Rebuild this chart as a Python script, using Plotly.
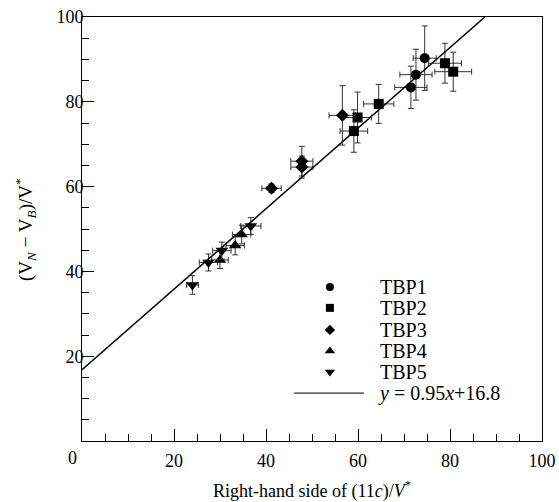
import plotly.graph_objects as go

# ---- data ----
tbp1_x = [74.5, 72.6, 71.5]
tbp1_y = [90.3, 86.4, 83.4]
tbp1_ex = [2.5, 3.5, 3.5]
tbp1_ey = [7.6, 6.0, 5.0]

tbp2_x = [78.9, 80.7, 64.5, 59.9, 59.1]
tbp2_y = [89.1, 87.1, 79.5, 76.3, 73.1]
tbp2_ex = [3.6, 4.0, 3.3, 3.0, 3.0]
tbp2_ey = [4.7, 4.6, 4.6, 6.0, 5.0]

tbp3_x = [56.6, 47.8, 47.8, 41.2]
tbp3_y = [76.8, 66.0, 64.6, 59.6]
tbp3_ex = [2.9, 2.4, 2.4, 2.1]
tbp3_ey = [7.0, 3.5, 2.6, 1.0]

tbp4_x = [34.7, 33.3, 30.0]
tbp4_y = [48.7, 46.1, 42.7]
tbp4_ex = [2.0, 2.0, 1.8]
tbp4_ey = [2.2, 2.2, 2.0]

tbp5_x = [36.7, 30.4, 27.5, 24.0]
tbp5_y = [50.7, 44.9, 42.1, 36.8]
tbp5_ex = [2.2, 2.0, 2.0, 1.3]
tbp5_ey = [2.0, 2.0, 2.0, 2.2]

fit_slope = 0.95
fit_intercept = 16.8
fit_x = [0, (100 - fit_intercept) / fit_slope]

series_names = ["TBP1", "TBP2", "TBP3", "TBP4", "TBP5"]
x_ticks = [20, 40, 60, 80, 100]
y_ticks = [20, 40, 60, 80, 100]

FONT = "Liberation Serif, Times New Roman, serif"

series = [
    (tbp1_x, tbp1_y, tbp1_ex, tbp1_ey, "circle", 10),
    (tbp2_x, tbp2_y, tbp2_ex, tbp2_ey, "square", 10),
    (tbp3_x, tbp3_y, tbp3_ex, tbp3_ey, "diamond", 10),
    (tbp4_x, tbp4_y, tbp4_ex, tbp4_ey, "triangle-up", 11),
    (tbp5_x, tbp5_y, tbp5_ex, tbp5_ey, "triangle-down", 11),
]

fig = go.Figure()

for name, (xs, ys, ex, ey, sym, sz) in zip(series_names, series):
    fig.add_trace(go.Scatter(
        x=xs, y=ys, mode="markers", name=name, showlegend=False,
        marker=dict(symbol=sym, size=sz, color="black"),
        error_x=dict(type="data", array=ex, color="#333", thickness=1, width=3),
        error_y=dict(type="data", array=ey, color="#333", thickness=1, width=3),
    ))

fit_y = [fit_slope * v + fit_intercept for v in fit_x]
fig.add_trace(go.Scatter(x=fit_x, y=fit_y, mode="lines", showlegend=False,
                         line=dict(color="black", width=1.5)))

# ---- custom legend (overlay axes spanning plot area, range 0..1) ----
leg_rows = [0.363, 0.314, 0.262, 0.212, 0.163]
leg_mx = 0.539
leg_tx = 0.6435
for name, (_, _, _, _, sym, sz), ry in zip(series_names, series, leg_rows):
    fig.add_trace(go.Scatter(x=[leg_mx], y=[ry], mode="markers", xaxis="x2", yaxis="y2",
                             showlegend=False,
                             marker=dict(symbol=sym, size=sz - 2, color="black")))
    fig.add_annotation(x=leg_tx, y=ry, xref="paper", yref="paper", text=name,
                       showarrow=False, xanchor="left", yanchor="middle",
                       font=dict(family=FONT, size=20, color="black"))
fig.add_shape(type="line", xref="paper", yref="paper", x0=0.461, x1=0.613,
              y0=0.113, y1=0.113, line=dict(color="black", width=1))
fig.add_annotation(x=leg_tx - 0.004, y=0.113, xref="paper", yref="paper",
                   text="<i>y</i> = 0.95<i>x</i>+16.8", showarrow=False,
                   xanchor="left", yanchor="middle",
                   font=dict(family=FONT, size=20, color="black"))

# x-axis "0" label offset to the left (as in reference)
fig.add_annotation(x=0, y=0, xref="x", yref="y", text="0", showarrow=False,
                   xanchor="center", yanchor="middle",
                   xshift=-10, yshift=-17, font=dict(family=FONT, size=18, color="black"))

# y-axis title
fig.add_annotation(x=-0.124, y=0.5, xref="paper", yref="paper",
                   xanchor="center", yanchor="middle",
                   text="(V<sub><i>N</i></sub> \u2212 V<sub><i>B</i></sub>)/V<sup>*</sup>",
                   textangle=-90, showarrow=False,
                   font=dict(family=FONT, size=19, color="black"))

fig.update_layout(
    width=559, height=502,
    margin=dict(l=82, r=17, t=17, b=61, autoexpand=False),
    paper_bgcolor="white", plot_bgcolor="white",
    font=dict(family=FONT, size=18, color="black"),
    xaxis=dict(range=[0, 100], tickmode="array", tickvals=x_ticks,
               automargin=False,
               ticks="inside", ticklen=12, tickwidth=1, tickcolor="black",
               ticklabelstandoff=3,
               minor=dict(tickmode="linear", tick0=0, dtick=5, ticks="inside",
                          ticklen=7, tickcolor="black"),
               showline=True, linecolor="black", linewidth=1, mirror=True,
               showgrid=False, zeroline=False,
               title=dict(text="Right-hand side of (11<i>c</i>)/<i>V</i><sup>*</sup>",
                          font=dict(size=18), standoff=17)),
    yaxis=dict(range=[0, 100], tickmode="array", tickvals=y_ticks,
               automargin=False,
               ticks="inside", ticklen=12, tickwidth=1, tickcolor="black",
               ticklabelstandoff=-6,
               minor=dict(tickmode="linear", tick0=0, dtick=5, ticks="inside",
                          ticklen=7, tickcolor="black"),
               showline=True, linecolor="black", linewidth=1, mirror=True,
               showgrid=False, zeroline=False),
    xaxis2=dict(range=[0, 1], overlaying="x", visible=False, fixedrange=True),
    yaxis2=dict(range=[0, 1], overlaying="y", visible=False, fixedrange=True),
)

fig.write_html("out.html", config={"displayModeBar": False},
               post_script="document.body.style.margin='0';")
